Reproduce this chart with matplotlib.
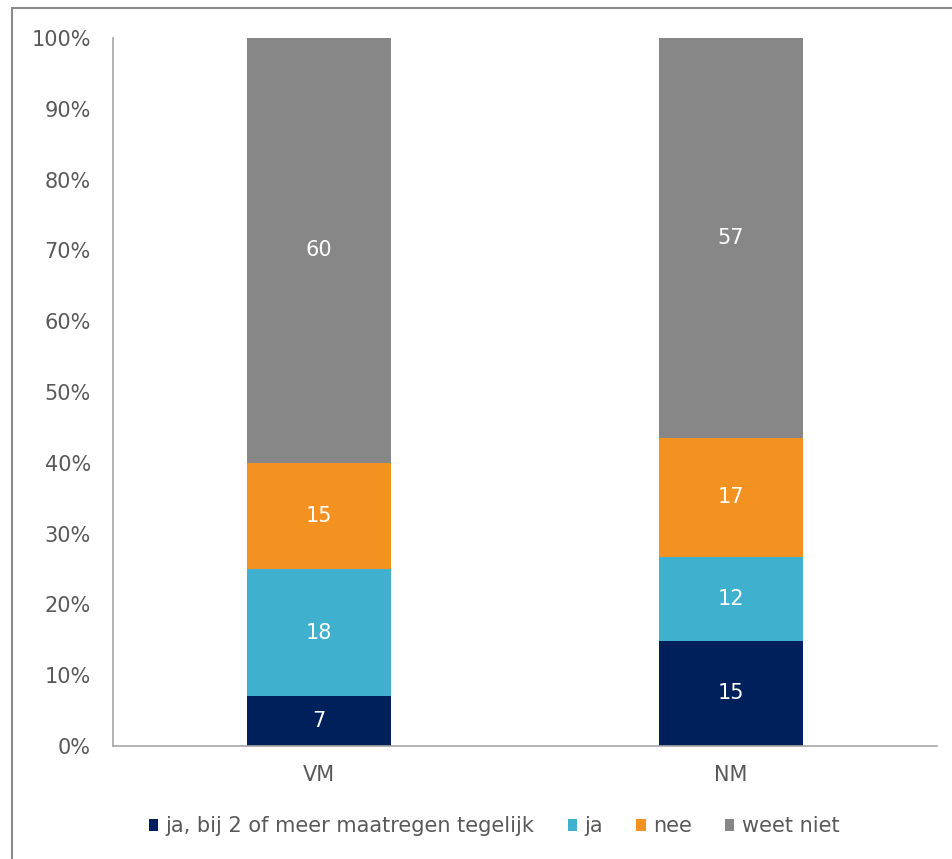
import numpy as np
import matplotlib.pyplot as plt
from matplotlib.patches import Rectangle

# Data
groepen = ['VM', 'NM']
reeksen = ['ja, bij 2 of meer maatregen tegelijk', 'ja', 'nee', 'weet niet']
waarden = {
    'ja, bij 2 of meer maatregen tegelijk': [7, 15],
    'ja': [18, 12],
    'nee': [15, 17],
    'weet niet': [60, 57],
}
kleuren = ['#00205B', '#3FB1CE', '#F39220', '#878787']
y_ticks = [0, 10, 20, 30, 40, 50, 60, 70, 80, 90, 100]

plt.rcParams['font.family'] = ['DejaVu Sans']

fig = plt.figure(figsize=(9.53, 8.59), dpi=100)
ax = fig.add_axes([113 / 953, 1 - 746 / 859, (937 - 113) / 953, (746 - 38) / 859])

# outer frame (left/top visible, rest cut off)
fig.patches.append(Rectangle((12 / 953, -0.05), 1.2, 1 - 8 / 859 + 0.05,
                             transform=fig.transFigure, fill=False,
                             edgecolor='#8C8C8C', linewidth=1.5))

totals = np.sum([waarden[r] for r in reeksen], axis=0)
x = np.arange(len(groepen))
bottom = np.zeros(len(groepen))
for reeks, kleur in zip(reeksen, kleuren):
    vals = np.array(waarden[reeks], dtype=float)
    pct = vals / totals * 100
    ax.bar(x, pct, 0.35, bottom=bottom, color=kleur, label=reeks)
    for xi, b, p, v in zip(x, bottom, pct, vals):
        ax.text(xi, b + p / 2, f'{int(v)}', ha='center', va='center',
                color='white', fontsize=15)
    bottom += pct

ax.set_xlim(-0.5, 1.5)
ax.set_ylim(0, 100)
ax.set_xticks(x)
ax.set_xticklabels(groepen)
ax.set_yticks(y_ticks)
ax.set_yticklabels([f'{t}%' for t in y_ticks])
ax.tick_params(axis='both', length=0, labelsize=15, colors='#595959')
ax.tick_params(axis='x', pad=14)
ax.tick_params(axis='y', pad=16)
for s in ['top', 'right']:
    ax.spines[s].set_visible(False)
for s in ['left', 'bottom']:
    ax.spines[s].set_color('#A6A6A6')
    ax.spines[s].set_linewidth(1.2)

ax.legend(loc='center', bbox_to_anchor=(494 / 953, 1 - 826 / 859),
          bbox_transform=fig.transFigure, ncol=4, frameon=False,
          fontsize=15, handlelength=0.45, handleheight=0.5,
          handletextpad=0.35, columnspacing=1.6, labelcolor='#595959')

fig.savefig('out.png', dpi=100)
